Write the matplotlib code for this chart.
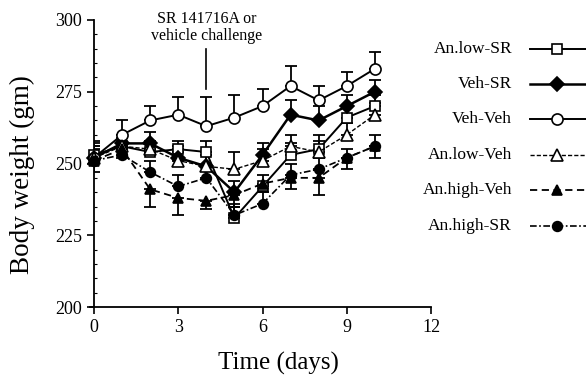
import matplotlib
matplotlib.use("Agg")
import matplotlib.pyplot as plt
from matplotlib.lines import Line2D
import numpy as np

days = [0, 1, 2, 3, 4, 5, 6, 7, 8, 9, 10]
labels = ["An.low-SR", "Veh-SR", "Veh-Veh", "An.low-Veh", "An.high-Veh", "An.high-SR"]

an_low_sr = [253, 256, 254, 255, 254, 231, 242, 253, 255, 266, 270]
veh_sr = [252, 257, 257, 252, 249, 240, 253, 267, 265, 270, 275]
veh_veh = [252, 260, 265, 267, 263, 266, 270, 277, 272, 277, 283]
an_low_veh = [252, 256, 255, 251, 249, 248, 251, 256, 254, 260, 267]
an_high_veh = [251, 255, 241, 238, 237, 239, 243, 245, 245, 252, 256]
an_high_sr = [251, 253, 247, 242, 245, 232, 236, 246, 248, 252, 256]

err_an_low_sr = [5, 3, 3, 3, 4, 4, 4, 4, 5, 4, 4]
err_veh_sr = [4, 3, 4, 4, 4, 4, 4, 5, 5, 4, 4]
err_veh_veh = [5, 5, 5, 6, 10, 8, 6, 7, 5, 5, 6]
err_an_low_veh = [4, 4, 3, 3, 4, 6, 4, 4, 4, 4, 4]
err_an_high_veh = [4, 3, 6, 6, 3, 4, 3, 4, 6, 4, 4]
err_an_high_sr = [4, 4, 4, 4, 4, 4, 4, 4, 4, 3, 4]

series = [an_low_sr, veh_sr, veh_veh, an_low_veh, an_high_veh, an_high_sr]
errs = [err_an_low_sr, err_veh_sr, err_veh_veh, err_an_low_veh, err_an_high_veh, err_an_high_sr]
direction = ["up", "up", "up", "up", "down", "up"]

styles = [
    dict(marker="s", mfc="white", mec="black", ms=7, ls="-", lw=1.4),
    dict(marker="D", mfc="black", mec="black", ms=7, ls="-", lw=1.8),
    dict(marker="o", mfc="white", mec="black", ms=8, ls="-", lw=1.4),
    dict(marker="^", mfc="white", mec="black", ms=8.5, ls=(0, (3, 1.5)), lw=1.0),
    dict(marker="^", mfc="black", mec="black", ms=6.5, ls=(0, (4, 2.5)), lw=1.3),
    dict(marker="o", mfc="black", mec="black", ms=7, ls=(0, (4, 1.5, 1, 1.5)), lw=1.2),
]

plt.rcParams['font.family'] = ['Liberation Serif', 'DejaVu Serif']

fig = plt.figure(figsize=(5.86, 3.82), dpi=100)
ax = fig.add_axes([94/586, 75/382, 337/586, 287/382])

for y, e, d, st in zip(series, errs, direction, styles):
    y = np.array(y, float)
    e = np.array(e, float)
    if d == "up":
        yerr = [np.zeros_like(e), e]
    else:
        yerr = [e, np.zeros_like(e)]
    ax.errorbar(days, y, yerr=yerr, fmt="none", ecolor="black", elinewidth=1.3,
                capsize=4.5, capthick=1.3, zorder=2)
    ax.plot(days, y, color="black", marker=st["marker"], mfc=st["mfc"], mec=st["mec"],
            ms=st["ms"], mew=1.2, ls=st["ls"], lw=st["lw"], zorder=3, clip_on=False)

ax.set_xlim(0, 12)
ax.set_ylim(200, 300)
ax.set_xticks([0, 3, 6, 9, 12])
ax.set_yticks([200, 225, 250, 275, 300])
ax.set_yticks(np.arange(200, 301, 5), minor=True)
ax.tick_params(axis="both", which="major", direction="out", length=5, width=1.2, labelsize=13)
ax.tick_params(axis="y", which="minor", direction="in", length=2, width=0.8)
for s in ["top", "right"]:
    ax.spines[s].set_visible(False)
for s in ["left", "bottom"]:
    ax.spines[s].set_linewidth(1.3)
ax.spines["bottom"].set_bounds(-0.15, 12)
ax.set_xlabel("Time (days)", fontsize=18)
ax.set_ylabel("Body weight (gm)", fontsize=19.5)
ax.xaxis.set_label_coords(0.546, -0.155)
ax.yaxis.set_label_coords(-0.175, 0.46)

# annotation
ax.plot([4, 4], [290, 276], color="black", lw=1.2)
ax.text(4, 291.5, "SR 141716A or\nvehicle challenge", ha="center", va="bottom",
        fontsize=11.5, linespacing=1.15)

# legend (manual)
rows_px = [49, 84, 119, 155, 190, 226]
for lab, st, rp in zip(labels, styles, rows_px):
    yf = 1 - rp / 382
    fig.text(512/586, yf, lab, ha="right", va="center", fontsize=12.5)
    ln = Line2D([530/586, 590/586], [yf, yf], transform=fig.transFigure, color="black",
                ls=st["ls"], lw=st["lw"])
    mk = Line2D([557/586], [yf], transform=fig.transFigure, color="black", ls="none",
                marker=st["marker"], mfc=st["mfc"], mec=st["mec"], ms=st["ms"], mew=1.2)
    fig.add_artist(ln)
    fig.add_artist(mk)

fig.savefig("out.png", dpi=100)
